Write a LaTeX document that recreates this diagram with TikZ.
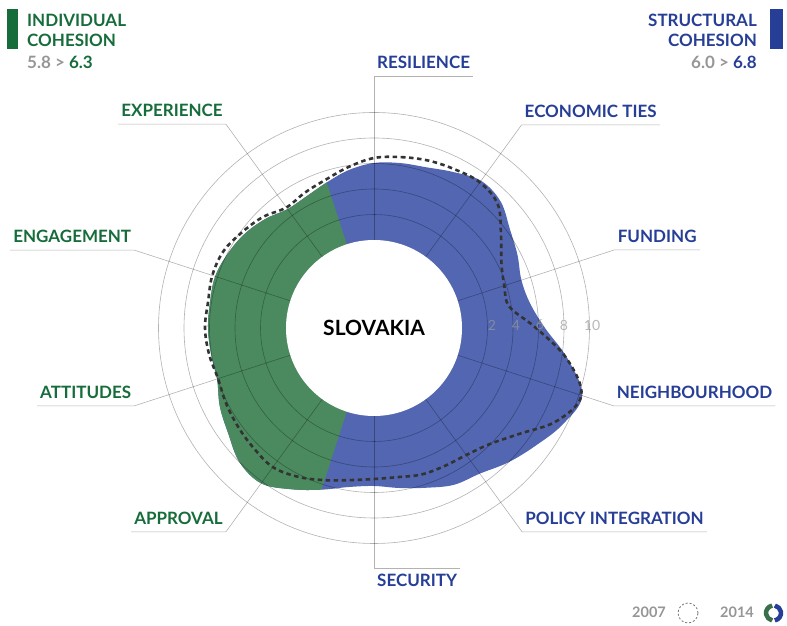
\documentclass[tikz,border=0pt]{standalone}
\usepackage{fontspec}
\setmainfont{Lato}
\usetikzlibrary{calc}

\definecolor{fillgreen}{RGB}{74,138,94}
\definecolor{fillblue}{RGB}{82,102,178}
\definecolor{txtgreen}{RGB}{22,108,58}
\definecolor{txtblue}{RGB}{38,62,150}
\definecolor{txtgray}{RGB}{150,150,150}

\def\shapeNew{plot[smooth cycle, tension=.6] coordinates {
    (90:165) (81:167) (72:169) (63:175) (54:182) (45:179) (36:168) (27:161) (18:155) (9:158)
    (0:171) (-9:196) (-18:219) (-27:212) (-36:200) (-45:190) (-54:180) (-63:176) (-72:168) (-81:162)
    (-90:158) (-99:161) (-108:170) (-117:181) (-126:192) (-135:190) (-144:180) (-153:173) (-162:165) (-171:165)
    (180:166) (171:166) (162:167) (153:164) (144:160) (135:154) (126:147) (117:148) (108:153) (99:160)}}
\def\shapeOld{plot[smooth cycle, tension=.6] coordinates {
    (90:170) (81:173) (72:176) (63:178) (54:180) (45:175) (36:157) (27:143) (18:137) (9:137)
    (0:162) (-9:195) (-18:218) (-27:205) (-36:180) (-45:164) (-54:157) (-63:155) (-72:154) (-81:151)
    (-90:151) (-99:154) (-108:160) (-117:167) (-126:172) (-135:170) (-144:168) (-153:166) (-162:164) (-171:167)
    (180:169) (171:168) (162:170) (153:169) (144:163) (135:157) (126:149) (117:152) (108:156) (99:163)}}

\begin{document}
\begin{tikzpicture}[x=1pt, y=1pt, line join=round]
    \tikzstyle{grid line}=[draw=black, opacity=.3, line width=.6pt]
    \tikzstyle{axis label}=[font=\fontsize{17}{19}\selectfont\bfseries, inner xsep=3pt, inner ysep=0pt]
    \tikzstyle{head}=[font=\fontsize{17}{20}\selectfont\bfseries, inner sep=0pt]
    \tikzstyle{scale label}=[font=\fontsize{14}{16}\selectfont, text=black!40, opacity=.7, inner sep=0pt]
    \tikzstyle{old line}=[draw=black!80, line width=2.6pt, dash pattern=on 4.5pt off 3.5pt]
    \tikzstyle{key}=[font=\fontsize{14.5}{16}\selectfont\bfseries, text=txtgray, inner sep=0pt]

    \useasboundingbox (0,0) rectangle (787,626);

    \begin{scope}[shift={(374,298)}]
        \fill[fillblue] \shapeNew;
        \begin{scope}
            \clip \shapeNew;
            \fill[fillgreen] (0,0) -- (108:300) arc (108:252:300) -- cycle;
        \end{scope}
        \node(hole)[circle, fill=white, minimum size=176pt, inner sep=0pt, outer sep=0pt,
            font=\fontsize{21}{24}\selectfont\bfseries]{SLOVAKIA};
        \foreach \r in {113.5,139,164.5,190,215.5}
            \draw[grid line] (0,0) circle (\r);

        \coordinate (res) at (90:252);
        \node(res label)[axis label, text=txtblue, anchor=south west] at ([yshift=7]res) {RESILIENCE};
        \draw[grid line] (hole.90) -- (res) -- (res -| res label.east);

        \coordinate (eco) at (54:251);
        \node(eco label)[axis label, text=txtblue, anchor=south west] at ([yshift=7]eco) {ECONOMIC TIES};
        \draw[grid line] (hole.54) -- (eco) -- (eco -| eco label.east);

        \coordinate (fun) at (18:253);
        \node(fun label)[axis label, text=txtblue, anchor=south west] at ([yshift=7]fun) {FUNDING};
        \draw[grid line] (hole.18) -- (fun) -- (fun -| fun label.east);

        \coordinate (nei) at (-18:252);
        \node(nei label)[axis label, text=txtblue, anchor=south west] at ([yshift=7]nei) {NEIGHBOURHOOD};
        \draw[grid line] (hole.-18) -- (nei) -- (nei -| nei label.east);

        \coordinate (pol) at (-54:252);
        \node(pol label)[axis label, text=txtblue, anchor=south west] at ([yshift=7]pol) {POLICY INTEGRATION};
        \draw[grid line] (hole.-54) -- (pol) -- (pol -| pol label.east);

        \coordinate (sec) at (-90:240);
        \node(sec label)[axis label, text=txtblue, anchor=north west] at ([yshift=-6]sec) {SECURITY};
        \draw[grid line] (hole.-90) -- (sec) -- (sec -| sec label.east);

        \coordinate (app) at (-126:252);
        \node(app label)[axis label, text=txtgreen, anchor=south east] at ([yshift=7]app) {APPROVAL};
        \draw[grid line] (hole.-126) -- (app) -- (app -| app label.west);

        \coordinate (att) at (-162:252);
        \node(att label)[axis label, text=txtgreen, anchor=south east] at ([yshift=7]att) {ATTITUDES};
        \draw[grid line] (hole.-162) -- (att) -- (att -| att label.west);

        \coordinate (eng) at (162:252);
        \node(eng label)[axis label, text=txtgreen, anchor=south east] at ([yshift=7]eng) {ENGAGEMENT};
        \draw[grid line] (hole.162) -- (eng) -- (eng -| eng label.west);

        \coordinate (exp) at (126:252);
        \node(exp label)[axis label, text=txtgreen, anchor=south east] at ([yshift=7]exp) {EXPERIENCE};
        \draw[grid line] (hole.126) -- (exp) -- (exp -| exp label.west);

        \draw[old line] \shapeOld;

        \node(n2)[scale label] at (118,3) {2};
        \node(n4)[scale label] at (142,3) {4};
        \node(n6)[scale label] at (166,3) {6};
        \node(n8)[scale label] at (190,3) {8};
        \node(n10)[scale label] at (218,3) {10};
    \end{scope}

    \fill[txtgreen] (7,577) rectangle (18,617);
    \node(ind title)[head, text=txtgreen, anchor=base west] at (27,599.5) {INDIVIDUAL};
    \node(ind title2)[head, text=txtgreen, anchor=base west] at (27,579.5) {COHESION};
    \node(ind score)[head, anchor=base west] at (27,557) {\textcolor{txtgray}{5.8 >} \textcolor{txtgreen}{6.3}};

    \fill[txtblue] (770,577) rectangle (783,617);
    \node(str title)[head, text=txtblue, anchor=base east] at (757,599.5) {STRUCTURAL};
    \node(str title2)[head, text=txtblue, anchor=base east] at (757,579.5) {COHESION};
    \node(str score)[head, anchor=base east] at (757,557) {\textcolor{txtgray}{6.0 >} \textcolor{txtblue}{6.8}};

    \node(old key)[key, anchor=base west] at (632,8) {2007};
    \draw[black!55, line width=.8pt, dash pattern=on 2pt off 2pt] (688,13) circle (10);
    \node(new key)[key, anchor=base west] at (720,8) {2014};
    \draw[fillgreen!80!black, line width=4.5pt] (773.5,13) ++(100:7.5) arc (100:260:7.5);
    \draw[txtblue, line width=4.5pt] (773.5,13) ++(-80:7.5) arc (-80:80:7.5);
\end{tikzpicture}
\end{document}
